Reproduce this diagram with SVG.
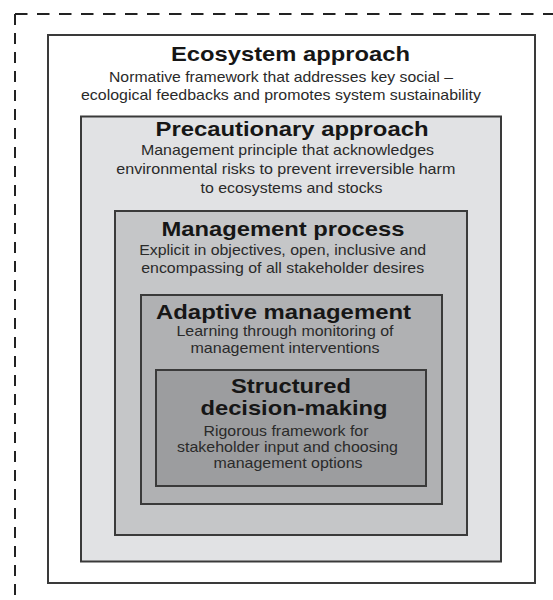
<svg xmlns="http://www.w3.org/2000/svg" width="553" height="600" viewBox="0 0 553 600">
<style>
.box{stroke:#3a3a3a;stroke-width:2}
.t{font-family:"Liberation Sans",Arial,sans-serif;font-weight:bold;font-size:21px;fill:#161616;text-anchor:middle}
.s{font-family:"Liberation Sans",Arial,sans-serif;font-size:15px;fill:#2a2a2a;text-anchor:middle}
.dash{stroke:#222;stroke-width:2;fill:none}
</style>
<rect width="553" height="600" fill="#ffffff"/>
<g id="boundary">
<line class="dash" x1="15" y1="14" x2="15" y2="600" stroke-dasharray="11 8"/>
<line class="dash" x1="15" y1="14" x2="553" y2="14" stroke-dasharray="12.5 9.5"/>
</g>
<g id="ecosystem">
<rect class="box" x="48" y="35" width="487" height="548" fill="#ffffff"/>
<text class="t" x="290.5" y="61" textLength="239" lengthAdjust="spacingAndGlyphs">Ecosystem approach</text>
<text class="s" x="281" y="82" textLength="344" lengthAdjust="spacingAndGlyphs">Normative framework that addresses key social –</text>
<text class="s" x="281" y="100" textLength="400" lengthAdjust="spacingAndGlyphs">ecological feedbacks and promotes system sustainability</text>
</g>
<g id="precautionary">
<rect class="box" x="81" y="116.5" width="420" height="445" fill="#e1e2e4"/>
<text class="t" x="292" y="136" textLength="273" lengthAdjust="spacingAndGlyphs">Precautionary approach</text>
<text class="s" x="287.5" y="155" textLength="293" lengthAdjust="spacingAndGlyphs">Management principle that acknowledges</text>
<text class="s" x="285.8" y="174" textLength="339" lengthAdjust="spacingAndGlyphs">environmental risks to prevent irreversible harm</text>
<text class="s" x="291.5" y="193" textLength="182" lengthAdjust="spacingAndGlyphs">to ecosystems and stocks</text>
</g>
<g id="management">
<rect class="box" x="115" y="211" width="352" height="324" fill="#c5c6c8"/>
<text class="t" x="283" y="236" textLength="243" lengthAdjust="spacingAndGlyphs">Management process</text>
<text class="s" x="282.7" y="255" textLength="287" lengthAdjust="spacingAndGlyphs">Explicit in objectives, open, inclusive and</text>
<text class="s" x="282.7" y="273" textLength="283" lengthAdjust="spacingAndGlyphs">encompassing of all stakeholder desires</text>
</g>
<g id="adaptive">
<rect class="box" x="141" y="295" width="301" height="209" fill="#b0b1b3"/>
<text class="t" x="283.5" y="319" textLength="255" lengthAdjust="spacingAndGlyphs">Adaptive management</text>
<text class="s" x="285" y="336" textLength="217" lengthAdjust="spacingAndGlyphs">Learning through monitoring of</text>
<text class="s" x="285" y="353" textLength="189" lengthAdjust="spacingAndGlyphs">management interventions</text>
</g>
<g id="structured">
<rect class="box" x="156" y="370" width="270" height="116" fill="#9c9d9f"/>
<text class="t" x="291" y="393" textLength="120" lengthAdjust="spacingAndGlyphs">Structured</text>
<text class="t" x="294" y="415" textLength="187" lengthAdjust="spacingAndGlyphs">decision-making</text>
<text class="s" x="286" y="436" textLength="165" lengthAdjust="spacingAndGlyphs">Rigorous framework for</text>
<text class="s" x="287.5" y="452" textLength="221" lengthAdjust="spacingAndGlyphs">stakeholder input and choosing</text>
<text class="s" x="288" y="468" textLength="149" lengthAdjust="spacingAndGlyphs">management options</text>
</g>
</svg>
